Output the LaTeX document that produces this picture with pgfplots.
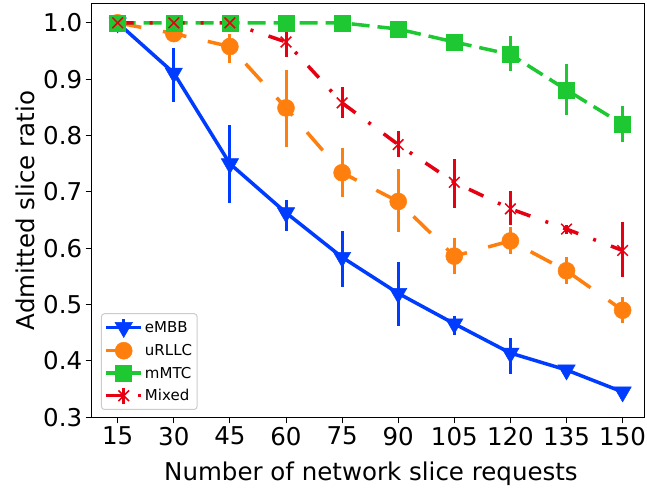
\documentclass[border=0pt]{standalone}
\usepackage{fontspec}
\setmainfont{DejaVu Sans}
\usepackage{pgfplots}
\pgfplotsset{compat=1.18}
\usepackage{pgfplotstable}

\definecolor{cB}{RGB}{0,60,255}
\definecolor{cO}{RGB}{255,127,14}
\definecolor{cG}{RGB}{30,200,50}
\definecolor{cR}{RGB}{230,0,18}
\definecolor{legframe}{RGB}{204,204,204}

\pgfplotstableread{
x   y     ep    em
15  1.000 0.000 0.000
30  0.911 0.044 0.052
45  0.750 0.068 0.069
60  0.663 0.023 0.032
75  0.584 0.046 0.053
90  0.520 0.055 0.058
105 0.466 0.013 0.020
120 0.414 0.027 0.037
135 0.384 0.008 0.008
150 0.345 0.006 0.006
}\embb

\pgfplotstableread{
x   y     ep    em
15  1.000 0.000 0.000
30  0.981 0.010 0.010
45  0.958 0.023 0.030
60  0.849 0.068 0.069
75  0.734 0.044 0.043
90  0.683 0.057 0.055
105 0.586 0.033 0.031
120 0.613 0.024 0.023
135 0.560 0.024 0.023
150 0.490 0.024 0.023
}\urllc

\pgfplotstableread{
x   y     ep    em
15  1.000 0.000 0.000
30  1.000 0.000 0.000
45  1.000 0.000 0.000
60  1.000 0.000 0.000
75  1.000 0.000 0.000
90  0.989 0.004 0.004
105 0.966 0.010 0.010
120 0.944 0.033 0.029
135 0.881 0.046 0.044
150 0.820 0.032 0.031
}\mmtc

\pgfplotstableread{
x   y     ep    em
15  1.000 0.000 0.000
30  1.000 0.000 0.000
45  1.000 0.000 0.000
60  0.966 0.018 0.026
75  0.858 0.029 0.027
90  0.784 0.024 0.022
105 0.717 0.041 0.045
120 0.670 0.032 0.029
135 0.634 0.008 0.008
150 0.596 0.050 0.047
}\mixed

\begin{document}
\begin{tikzpicture}
\path[use as bounding box] (-91.7pt,-71.7pt) rectangle (555.3pt,417.3pt);
\begin{axis}[
  scale only axis,
  width=552.6pt, height=413.6pt,
  xmin=8.05, xmax=155.8, ymin=0.3, ymax=1.034,
  xtick={15,30,45,60,75,90,105,120,135,150},
  ytick={0.3,0.4,0.5,0.6,0.7,0.8,0.9,1.0},
  yticklabel style={/pgf/number format/.cd, fixed, fixed zerofill, precision=1},
  /pgf/number format/assume math mode=true,
  tick pos=left,
  tick align=outside,
  major tick length=6pt,
  tick style={black, line width=1pt},
  axis line style={black, line width=1pt},
  ticklabel style={font=\fontsize{24.5}{29}\selectfont},
  label style={font=\fontsize{24.5}{29}\selectfont},
  xlabel={Number of network slice requests},
  ylabel={Admitted slice ratio},
  xlabel style={at={(axis description cs:0.5054,0)}, yshift=-63.4pt, anchor=base, inner sep=0pt},
  ylabel style={at={(axis description cs:-0.1026,0.5)}, anchor=south, inner sep=0pt},
  legend style={at={(axis description cs:0.0168,0.0177)}, anchor=south west,
    draw=legframe, line width=1pt, rounded corners=3pt, fill=white,
    font=\fontsize{15}{18}\selectfont, inner xsep=3pt, inner ysep=4.5pt,
    row sep=4pt},
  legend cell align=left,
  legend image code/.code={
    \draw[solid, line width=2.5pt] (17.5pt,-8pt) -- (17.5pt,8pt);
    \draw[mark repeat=2, mark phase=2] plot coordinates {(0pt,0pt) (17.5pt,0pt) (35pt,0pt)};
  },
  error bars/y dir=both,
  error bars/y explicit,
  error bars/error mark=none,
  error bars/error bar style={line width=3pt, solid},
]
\addplot[color=cB, line width=3.5pt, solid, mark=triangle*, mark size=10pt,
  mark options={solid, rotate=180, line width=0.5pt}]
  table[x=x, y=y, y error plus=ep, y error minus=em] {\embb};
\addlegendentry{eMBB}
\addplot[color=cO, line width=3.5pt, dash pattern=on 24pt off 22pt, mark=*, mark size=8.5pt,
  mark options={solid, line width=0.5pt}]
  table[x=x, y=y, y error plus=ep, y error minus=em] {\urllc};
\addlegendentry{uRLLC}
\addplot[color=cG, line width=3.5pt, dash pattern=on 18pt off 8pt, mark=square*, mark size=8pt,
  mark options={solid, line width=0.5pt}]
  table[x=x, y=y, y error plus=ep, y error minus=em] {\mmtc};
\addlegendentry{mMTC}
\addplot[color=cR, line width=3.5pt, dash pattern=on 16pt off 16pt on 3pt off 16pt, mark=x, mark size=7.5pt,
  mark options={solid, line width=1.5pt}]
  table[x=x, y=y, y error plus=ep, y error minus=em] {\mixed};
\addlegendentry{Mixed}
\end{axis}
\end{tikzpicture}
\end{document}
